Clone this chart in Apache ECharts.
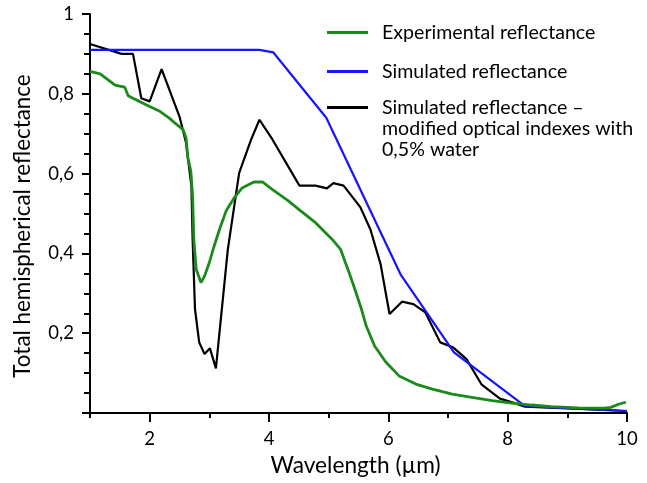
<!DOCTYPE html>
<html><head><meta charset="utf-8">
<script src="https://cdn.jsdelivr.net/npm/echarts@6/dist/echarts.min.js"></script>
<style>html,body{margin:0;padding:0;background:#fff}#c{width:647px;height:483px}</style>
</head><body><div id="c"></div>
<script>
const seriesNames = [
  'Experimental reflectance',
  'Simulated reflectance',
  'Simulated reflectance – modified optical indexes with 0,5% water'
];
const legendLabels = [
  'Experimental reflectance',
  'Simulated reflectance',
  '\n\nSimulated reflectance –\nmodified optical indexes with\n0,5% water'
];
const xAxisTitle = 'Wavelength (µm)';
const yAxisTitle = 'Total hemispherical reflectance';
const xLabelTicks = [2, 4, 6, 8, 10];
const xMinorTicks = [1, 3, 5, 7, 9];

const experimental = [
  [1.0,0.856],[1.17,0.85],[1.42,0.822],[1.58,0.817],[1.64,0.795],[1.72,0.789],[1.83,0.781],
  [2.0,0.768],[2.17,0.756],[2.33,0.739],[2.42,0.727],[2.56,0.71],[2.61,0.689],[2.64,0.64],
  [2.69,0.606],[2.72,0.543],[2.74,0.435],[2.78,0.36],[2.86,0.327],[2.92,0.343],[3.0,0.377],
  [3.08,0.418],[3.17,0.46],[3.28,0.506],[3.42,0.54],[3.55,0.564],[3.67,0.573],[3.75,0.579],
  [3.89,0.579],[4.06,0.56],[4.33,0.531],[4.52,0.508],[4.78,0.477],[5.06,0.435],[5.2,0.41],
  [5.34,0.353],[5.45,0.305],[5.55,0.26],[5.63,0.218],[5.77,0.168],[5.96,0.127],[6.18,0.093],
  [6.46,0.0725],[6.74,0.06],[7.07,0.0475],[7.4,0.039],[7.74,0.031],[8.07,0.025],[8.4,0.02],
  [8.73,0.016],[9.18,0.013],[9.62,0.012],[9.73,0.014],[9.87,0.0225],[9.98,0.027]
];
const simulated = [
  [1,0.91],[3.84,0.91],[4.07,0.904],[4.96,0.74],[6.21,0.346],[7.1,0.152],[8.29,0.017],[10,0.005]
];
const modified = [
  [1,0.925],[1.53,0.9],[1.72,0.9],[1.86,0.789],[2.0,0.781],[2.2,0.862],[2.5,0.743],[2.61,0.677],
  [2.7,0.568],[2.72,0.435],[2.76,0.26],[2.83,0.177],[2.92,0.148],[3.01,0.162],[3.11,0.112],
  [3.14,0.112],[3.31,0.41],[3.5,0.602],[3.7,0.685],[3.84,0.735],[4.06,0.685],[4.51,0.57],
  [4.78,0.57],[4.97,0.563],[5.08,0.576],[5.25,0.57],[5.53,0.516],[5.7,0.46],[5.87,0.373],
  [6.02,0.248],[6.23,0.279],[6.42,0.273],[6.62,0.252],[6.87,0.177],[7.09,0.164],[7.31,0.135],
  [7.56,0.072],[7.87,0.036],[8.09,0.026],[8.29,0.016],[10,0.005]
];

const FONT = 'Lato';
const colors = ['#1a8a1a', '#1414ff', '#000000'];
const chart = echarts.init(document.getElementById('c'), null, {renderer: 'canvas'});

function makeLegend(i, top) {
  return {
    data: [seriesNames[i]],
    left: 327, top: top, padding: 0,
    icon: 'rect', itemWidth: 41, itemHeight: 3,
    selectedMode: false,
    formatter: () => legendLabels[i],
    textStyle: {fontFamily: FONT, fontSize: 19.6, color: '#000', lineHeight: 21, padding: [0, 0, 0, 9]}
  };
}

chart.setOption({
  animation: false,
  backgroundColor: '#fff',
  grid: {left: 90, right: 20, top: 14, bottom: 70},
  legend: [makeLegend(0, 22), makeLegend(1, 61), makeLegend(2, 55)],
  xAxis: [{
    type: 'value', position: 'bottom', min: 1, max: 10, interval: 1,
    name: xAxisTitle, nameLocation: 'middle', nameGap: 41,
    nameTextStyle: {fontFamily: FONT, fontSize: 22.7, color: '#000', padding: [0, 6, 0, 0]},
    axisLine: {lineStyle: {color: '#000', width: 2}},
    axisTick: {customValues: xLabelTicks, length: 9, lineStyle: {color: '#000', width: 2}},
    axisLabel: {customValues: xLabelTicks, fontFamily: FONT, fontSize: 18.5, color: '#000', margin: 17},
    splitLine: {show: false}
  }, {
    type: 'value', position: 'bottom', min: 1, max: 10, interval: 1,
    axisLine: {show: false},
    axisTick: {customValues: xMinorTicks, length: 5, lineStyle: {color: '#000', width: 2}},
    axisLabel: {show: false},
    splitLine: {show: false}
  }],
  yAxis: {
    type: 'value', min: 0, max: 1, interval: 0.2,
    name: yAxisTitle, nameLocation: 'middle', nameGap: 56,
    nameTextStyle: {fontFamily: FONT, fontSize: 22.4, color: '#000', padding: [0, 25, 0, 0]},
    axisLine: {show: true, lineStyle: {color: '#000', width: 2}},
    axisTick: {show: true, length: 8, lineStyle: {color: '#000', width: 2}},
    minorTick: {show: true, splitNumber: 4, length: 6, lineStyle: {color: '#000', width: 2}},
    axisLabel: {
      fontFamily: FONT, fontSize: 18.5, color: '#000', margin: 16,
      formatter: v => v === 0 ? '' : (v === 1 ? '1' : v.toFixed(1).replace('.', ','))
    },
    splitLine: {show: false}
  },
  series: [
    {name: seriesNames[2], type: 'line', data: modified, symbol: 'none', color: colors[2],
     lineStyle: {color: colors[2], width: 2.2}, z: 2},
    {name: seriesNames[1], type: 'line', data: simulated, symbol: 'none', color: colors[1],
     lineStyle: {color: colors[1], width: 2.2}, z: 3},
    {name: seriesNames[0], type: 'line', data: experimental, symbol: 'none', color: colors[0],
     lineStyle: {color: colors[0], width: 2.8}, z: 4}
  ]
});
</script></body></html>
